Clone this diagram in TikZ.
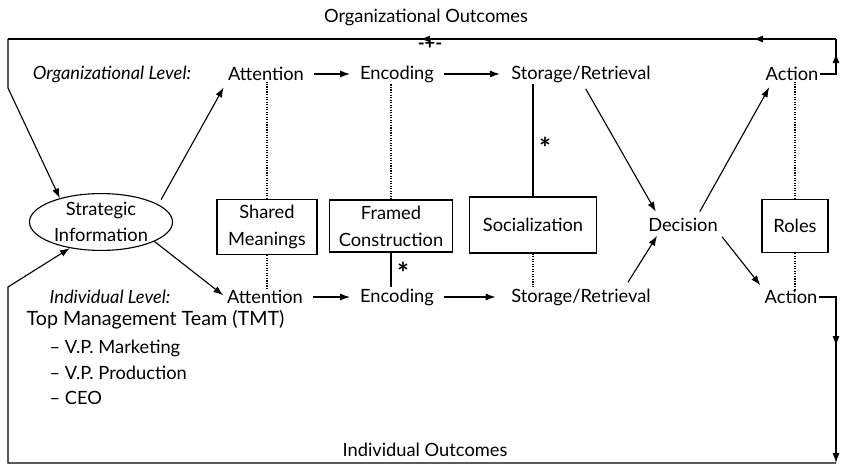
\documentclass[tikz,border=0pt]{standalone}
\usepackage{fontspec}
\setmainfont{Lato}
\usetikzlibrary{arrows.meta,shapes.geometric,decorations.markings}

\tikzset{
  txt/.style={font=\fontsize{13}{19}\selectfont, inner sep=1pt},
  lvl/.style={inner sep=1pt, font=\fontsize{13}{15}\selectfont\itshape},
  box/.style={draw, thick, txt, align=center},
  flow/.style={-{Latex[length=7pt,width=5pt]}, thick},
  link/.style={thick, densely dotted},
  astr/.style={inner sep=0pt, font=\fontsize{20}{20}\selectfont\bfseries},
  midarr/.style={postaction={decorate, decoration={markings,
      mark=at position #1 with {\arrow{Latex[length=7pt,width=5pt]}}}}}
}

\begin{document}
\begin{tikzpicture}[x=0.025cm, y=-0.025cm]
\useasboundingbox (0,0) rectangle (841,464);

                % Outcome labels
                \node[txt] (orgOut) at (426,17) {Organizational Outcomes};
                \node[txt] (indOut) at (425,450) {Individual Outcomes};
                \node[txt, font=\fontsize{13}{15}\selectfont\bfseries] (plus) at (430,44) {-+-};

                % Organizational level
                \node[lvl] (orgLvl) at (112,74) {Organizational Level:};
                \node[txt] (attO) at (266,74) {Attention};
                \node[txt] (encO) at (397,74) {Encoding};
                \node[txt] (storO) at (581,74) {Storage/Retrieval};
                \node[txt] (actO) at (792,74) {Action};

                % Middle row
                \node
                [
                    draw, thick, ellipse, txt,
                    inner sep=0pt,
                    align=center,
                    minimum width=3.575cm,
                    minimum height=1.275cm
                ] (strat) at (101,222) {Strategic\\Information};
                \node[box, minimum width=2.5cm, minimum height=1.375cm] (shared) at (267,227) {Shared\\Meanings};
                \node[box, minimum width=3.075cm, minimum height=1.3cm] (framed) at (391,226) {Framed\\Construction};
                \node[box, minimum width=3.175cm, minimum height=1.4cm] (soc) at (533,225) {Socialization};
                \node[txt] (dec) at (683,225) {Decision};
                \node[box, minimum width=1.65cm, minimum height=1.325cm] (roles) at (795,226) {Roles};

                % Individual level
                \node[lvl] (indLvl) at (110,297) {Individual Level:};
                \node[txt] (attI) at (265,297) {Attention};
                \node[txt] (encI) at (397,297) {Encoding};
                \node[txt] (storI) at (581,297) {Storage/Retrieval};
                \node[txt] (actI) at (791,297) {Action};

                % Team members
                \node[txt, anchor=west, font=\fontsize{14}{16}\selectfont] (tmt) at (25,320) {Top Management Team (TMT)};
                \node[txt, anchor=west] (vpm) at (48,348) {-- V.P. Marketing};
                \node[txt, anchor=west] (vpp) at (48,373) {-- V.P. Production};
                \node[txt, anchor=west] (ceo) at (48,398) {-- CEO};

                % Asterisks
                \node[astr] (astO) at (545,148) {*};
                \node[astr] (astI) at (403,273) {*};

                % Processing arrows
                \draw[flow, shorten <=6pt, shorten >=6pt] (attO) -- (encO);
                \draw[flow, shorten <=6pt, shorten >=7pt] (encO) -- (storO);
                \draw[flow, shorten <=6pt, shorten >=6pt] (attI) -- (encI);
                \draw[flow, shorten <=6pt, shorten >=10pt] (encI) -- (storI);

                % Links between the levels
                \draw[link] (shared.north) -- (shared.north |- attO.south);
                \draw[link] (framed.north) -- (framed.north |- encO.south);
                \draw[thick] (soc.north) -- (soc.north |- storO.south);
                \draw[link] (roles.north) -- (roles.north |- actO.south);
                \draw[link] (shared.south) -- (shared.south |- attI.north);
                \draw[thick] (framed.south) -- (framed.south |- encI.north);
                \draw[link] (soc.south) -- (soc.south |- storI.north);
                \draw[link] (roles.south) -- (roles.south |- actI.north);

                % Decision arrows
                \draw[flow, shorten <=4pt, shorten >=4pt] (strat.17) -- (attO.south west);
                \draw[flow, shorten >=2pt] (strat.-20) -- (attI.west);
                \draw[flow, shorten <=4pt, shorten >=4pt] ([xshift=0.05cm]storO.south) -- ([xshift=0.3cm]dec.north west);
                \draw[flow, shorten <=4pt, shorten >=4pt] ([xshift=0.35cm]dec.north) -- ([xshift=0.2cm]actO.south west);
                \draw[flow, shorten <=4pt, shorten >=2pt] ([xshift=1.1cm]storI.north) -- ([xshift=0.3cm]dec.south west);
                \draw[flow, shorten <=3pt, shorten >=3pt] (dec.south east) -- (actI.north west);

                % Outcome loops
                \coordinate (tl) at (8,39);
                \coordinate (tr) at (836,39);
                \coordinate (br) at (836,463);
                \coordinate (bl) at (8,463);

                \draw[thick, midarr=0.72] (actO.east) -| (tr);
                \draw[thick, midarr=0.1, midarr=0.502] (tr) -- (tl);
                \draw[flow] (tl) -- ++(0,49) -- (strat.150);

                \draw[flow, midarr=0.36] (actI.east) -| (br);
                \draw[flow] (br) -- (bl) -- ++(0,-176) -- (strat.220);

\end{tikzpicture}
\end{document}
